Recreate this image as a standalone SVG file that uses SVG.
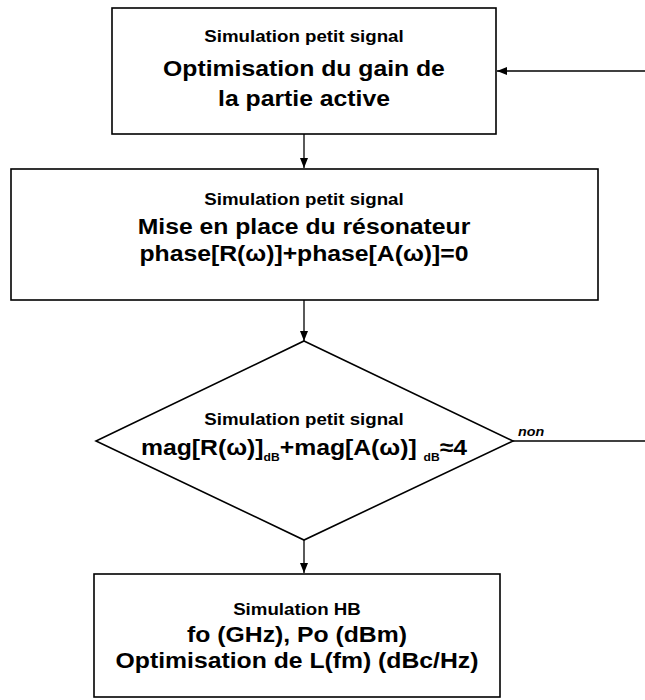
<svg xmlns="http://www.w3.org/2000/svg" width="645" height="700" viewBox="0 0 645 700">
<style>
.box{fill:#fff;stroke:#000;stroke-width:1.6}
.ln{fill:none;stroke:#000;stroke-width:1.3}
text{font-family:"Liberation Sans",Arial,sans-serif;font-weight:bold;fill:#000;text-anchor:middle}
.s{font-size:17px}
.b{font-size:22.5px}
.sub{font-size:11px}
.non{font-size:13px;font-style:italic;text-anchor:start}
</style>
<defs>
<marker id="ah" viewBox="0 0 10 10" refX="10" refY="5" markerWidth="10" markerHeight="10" markerUnits="userSpaceOnUse" orient="auto">
<path d="M0,1 L10,5 L0,9 Z" fill="#000"/>
</marker>
</defs>
<g id="connectors">
<line class="ln" x1="645" y1="71" x2="497" y2="71" marker-end="url(#ah)"/>
<line class="ln" x1="304" y1="134" x2="304" y2="168" marker-end="url(#ah)"/>
<line class="ln" x1="304" y1="300" x2="304" y2="341" marker-end="url(#ah)"/>
<line class="ln" x1="304" y1="540" x2="304" y2="573" marker-end="url(#ah)"/>
<line class="ln" x1="513" y1="441" x2="645" y2="441"/>
<text class="non" transform="translate(518,436) scale(1.1,1)">non</text>
</g>
<g id="node1">
<rect class="box" x="112" y="8" width="384" height="126"/>
<text class="s" transform="translate(304,42) scale(1.1,1)">Simulation petit signal</text>
<text class="b" transform="translate(304,76) scale(1.1,1)">Optimisation du gain de</text>
<text class="b" transform="translate(304,106) scale(1.1,1)">la partie active</text>
</g>
<g id="node2">
<rect class="box" x="11" y="169" width="587" height="131"/>
<text class="s" transform="translate(304,205) scale(1.1,1)">Simulation petit signal</text>
<text class="b" transform="translate(304,234) scale(1.1,1)">Mise en place du résonateur</text>
<text class="b" transform="translate(304,261) scale(1.1,1)">phase[R(ω)]+phase[A(ω)]=0</text>
</g>
<g id="node3">
<polygon class="box" points="304,341 513,441 304,540 96,441"/>
<text class="s" transform="translate(304,425) scale(1.1,1)">Simulation petit signal</text>
<text class="b" transform="translate(304,455) scale(1.1,1)">mag[R(ω)]<tspan class="sub" dy="6">dB</tspan><tspan dy="-6">+mag[A(ω)] </tspan><tspan class="sub" dy="6">dB</tspan><tspan dy="-6">≈4</tspan></text>
</g>
<g id="node4">
<rect class="box" x="94" y="574" width="406" height="123"/>
<text class="s" transform="translate(297,615) scale(1.1,1)">Simulation HB</text>
<text class="b" transform="translate(297,642) scale(1.1,1)">fo (GHz), Po (dBm)</text>
<text class="b" transform="translate(297,668) scale(1.1,1)">Optimisation de L(fm) (dBc/Hz)</text>
</g>
</svg>
